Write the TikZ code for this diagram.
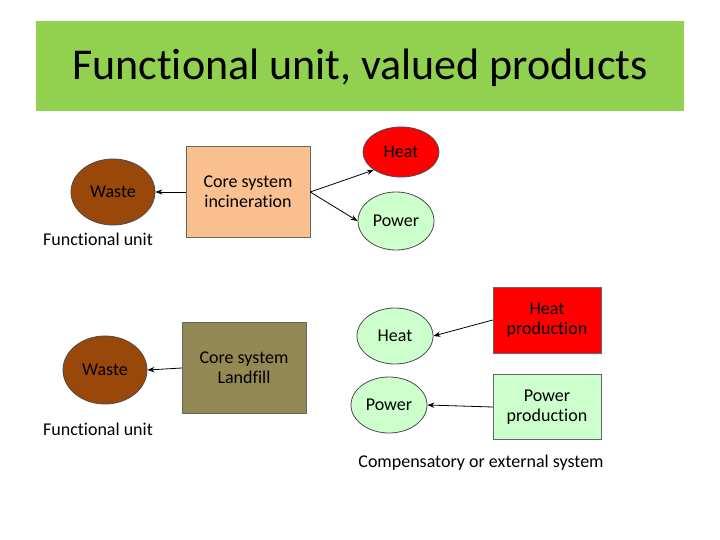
\documentclass[tikz,border=0pt]{standalone}
\usepackage{fontspec}
\setmainfont{Carlito}[Ligatures=NoCommon]
\usetikzlibrary{arrows.meta, shapes.geometric}
\definecolor{titlegreen}{RGB}{146,208,80}
\definecolor{wastebrown}{RGB}{153,72,10}
\definecolor{peach}{RGB}{250,192,144}
\definecolor{olive}{RGB}{148,136,84}
\definecolor{palegreen}{RGB}{204,255,204}
\tikzset{
    every node/.style={font=\fontsize{18}{20}\selectfont},
    blob/.style={ellipse, draw=black!70, thick, minimum width=76pt, minimum height=50pt},
    waste/.style={blob, fill=wastebrown, minimum width=84pt, minimum height=66pt},
    unit/.style={draw=black!60, align=center, minimum width=124pt, minimum height=91pt},
    prod/.style={draw=black!60, align=center, minimum width=108pt, minimum height=65pt},
    flow/.style={thick, -{Stealth[length=7pt]}},
}
\begin{document}
\begin{tikzpicture}[x=1pt, y=-1pt]
    \useasboundingbox (0,0) rectangle (720,540);
    \fill[white] (0,0) rectangle (720,540);
    \fill[titlegreen] (36,21) rectangle (684,111);
    \node[font=\fontsize{44}{46}\selectfont] (title) at (360,68)
        {Functional unit, valued products};
    % incineration
    \node[waste] (waste1) at (113,192) {Waste};
    \node (fu1) at (98,239) {Functional unit};
    \node[unit, fill=peach] (core1) at (248,192) {Core system\\incineration};
    \node[blob, fill=red] (heat1) at (401,152) {Heat};
    \node[blob, fill=palegreen, minimum height=58pt] (power1) at (396,221) {Power};
    \draw[flow] (core1.west) -- (waste1.east);
    \draw[flow] (core1.east) -- (heat1.south west);
    \draw[flow] (core1.east) -- (power1.west);
    % landfill
    \node[waste, minimum height=68pt] (waste2) at (105,370) {Waste};
    \node (fu2) at (98,429) {Functional unit};
    \node[unit, fill=olive] (core2) at (244,368) {Core system\\Landfill};
    \node[blob, fill=palegreen, minimum height=56pt] (heat2) at (395,336) {Heat};
    \node[blob, fill=palegreen, minimum height=56pt] (power2) at (389,405) {Power};
    \node[prod, fill=red, minimum height=66pt] (heatprod) at (547,320) {Heat\\production};
    \node[prod, fill=palegreen] (powerprod) at (547,407) {Power\\production};
    \draw[flow] (core2.west) -- (waste2.east);
    \draw[flow] (heatprod.west) -- (heat2.east);
    \draw[flow] (powerprod.west) -- (power2.east);
    \node (ext) at (481,463) {Compensatory or external system};
\end{tikzpicture}
\end{document}
